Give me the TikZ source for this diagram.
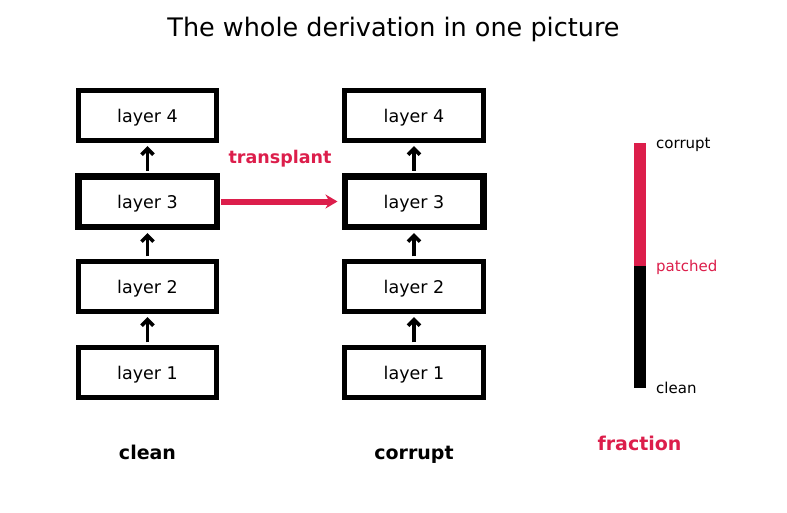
\documentclass[tikz,border=0pt]{standalone}
\usepackage{fontspec}
\setmainfont{DejaVu Sans}
\usetikzlibrary{arrows.meta}
\definecolor{crim}{RGB}{220,30,75}
\tikzset{
  layerbox/.style={draw=black, line width=4.7pt, minimum width=138.5pt, minimum height=50.5pt, inner sep=0pt, text height=13pt, text depth=0pt, font=\fontsize{17.5}{20}\selectfont},
  thickbox/.style={layerbox, line width=6.5pt},
  uparrow/.style={draw=black, line width=3.7pt, -{Straight Barb[length=6pt,width=12pt,line width=3.7pt]}, shorten >=3pt, shorten <=2.5pt},
  colhead/.style={anchor=base, font=\fontsize{19}{22}\selectfont\bfseries},
  barlabel/.style={anchor=west, inner sep=0pt, text height=11pt, text depth=0pt, font=\fontsize{15}{18}\selectfont}
}
\begin{document}
\begin{tikzpicture}[x=1pt,y=-1pt]
\useasboundingbox (0,0) rectangle (787,512);
\node[font=\fontsize{25.5}{30}\selectfont, text height=19pt, text depth=0pt] (title) at (393.5,26.5) {The whole derivation in one picture};
% clean column
\node[layerbox] (c1) at (147.5,372.5) {layer 1};
\node[layerbox] (c2) at (147.5,286.5) {layer 2};
\node[thickbox] (c3) at (147.5,201.5) {layer 3};
\node[layerbox] (c4) at (147.5,115.5) {layer 4};
% corrupt column
\node[layerbox] (r1) at (414,372.5) {layer 1};
\node[layerbox] (r2) at (414,286.5) {layer 2};
\node[thickbox] (r3) at (414,201.5) {layer 3};
\node[layerbox] (r4) at (414,115.5) {layer 4};
\foreach \a/\b in {c1/c2,c2/c3,c3/c4,r1/r2,r2/r3,r3/r4}{
  \draw[uparrow] (\a.north) -- (\b.south);
}
\draw[draw=crim, line width=6pt, -{Stealth[length=12pt,width=14pt]}, shorten <=1pt, shorten >=4pt] (c3.east) -- (r3.west);
\node[font=\fontsize{17.5}{20}\selectfont\bfseries, text=crim, text height=13pt, text depth=0pt] (tp) at (280,157) {transplant};
\node[colhead] (cl) at (147.5,459) {clean};
\node[colhead] (co) at (414,459) {corrupt};
% fraction bar
\fill[crim] (634,143) rectangle (646,266);
\fill[black] (634,266) rectangle (646,388);
\node[barlabel] (bc) at (656,143) {corrupt};
\node[barlabel, text=crim] (bp) at (656,265.5) {patched};
\node[barlabel] (bl) at (656,388) {clean};
\node[colhead, text=crim] (fr) at (639.5,450) {fraction};
\end{tikzpicture}
\end{document}
